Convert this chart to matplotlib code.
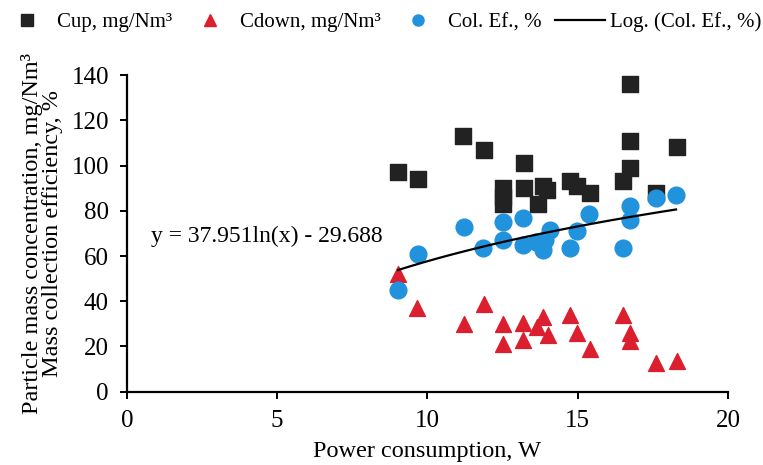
import numpy as np
import matplotlib
matplotlib.use("Agg")
import matplotlib.pyplot as plt
from matplotlib.lines import Line2D

# ==== Data ====
cup_x = [9.02, 9.68, 11.18, 11.88, 12.5, 12.5, 12.5, 13.2, 13.2, 13.68, 13.85,
         13.98, 14.74, 14.98, 15.41, 16.5, 16.74, 16.74, 16.74, 17.6, 18.3]
cup_y = [97, 94, 113, 107, 90, 86, 83, 101, 90, 83, 91,
         89, 93, 91, 88, 93, 99, 111, 136, 88, 108]

cdown_x = [9.02, 9.65, 11.2, 11.88, 12.5, 12.5, 13.18, 13.18, 13.64, 13.84,
           14.0, 14.74, 14.98, 15.41, 16.5, 16.74, 16.74, 17.6, 18.3]
cdown_y = [52, 37, 30, 39, 30, 21, 30.5, 23, 28.5, 33,
           25, 34, 26, 19, 34, 26, 22.5, 12.6, 13.6]

colef_x = [9.02, 9.68, 11.2, 11.85, 12.5, 12.5, 13.18, 13.18, 13.6, 13.85,
           13.9, 14.07, 14.74, 14.98, 15.38, 16.5, 16.74, 16.74, 17.6, 18.27]
colef_y = [45, 61, 73, 63.5, 75, 67, 77, 65, 66, 62.5,
           67, 71.5, 63.5, 71, 78.5, 63.5, 82, 76, 85.5, 87]

# logarithmic trend line coefficients (from the chart's equation)
log_a = 37.951
log_b = -29.688

# ==== Plot ====
plt.rcParams['font.family'] = ['Liberation Serif', 'DejaVu Serif']

fig = plt.figure(figsize=(7.63, 4.65), dpi=100)
ax = fig.add_axes([0.1664, 0.1576, 0.7877, 0.681])

black = '#222222'
red = '#dc1f2e'
blue = '#2192dc'

ax.scatter(cup_x, cup_y, marker='s', s=120, color=black, zorder=3)
ax.scatter(cdown_x, cdown_y, marker='^', s=130, color=red, zorder=3)
ax.scatter(colef_x, colef_y, marker='o', s=145, color=blue, zorder=3)

xs = np.linspace(min(colef_x), max(colef_x), 100)
ax.plot(xs, log_a * np.log(xs) + log_b, color='black', lw=1.6, zorder=4)

ax.text(0.8, 68.5, "y = 37.951ln(x) - 29.688", fontsize=17, va='center')

ax.set_xlim(0, 20)
ax.set_ylim(0, 140)
ax.set_xticks([0, 5, 10, 15, 20])
ax.set_yticks(range(0, 141, 20))
for s in ['top', 'right']:
    ax.spines[s].set_visible(False)
for s in ['left', 'bottom']:
    ax.spines[s].set_linewidth(1.6)
ax.tick_params(axis='both', labelsize=18, width=1.4, length=5, direction='out')
ax.tick_params(axis='x', pad=8)
ax.tick_params(axis='y', pad=8)

ax.set_xlabel("Power consumption, W", fontsize=17.5, labelpad=7)
ax.set_ylabel("Particle mass concentration, mg/Nm³\nMass collection efficiency, %",
              fontsize=17.5, labelpad=6, linespacing=0.95)

handles = [
    Line2D([], [], marker='s', color=black, ls='none', markersize=8),
    Line2D([], [], marker='^', color=red, ls='none', markersize=8),
    Line2D([], [], marker='o', color=blue, ls='none', markersize=8),
    Line2D([], [], color='black', lw=1.6),
]
labels = ["Cup, mg/Nm³", "Cdown, mg/Nm³", "Col. Ef., %", "Log. (Col. Ef., %)"]
fig.legend(handles, labels, loc='center', bbox_to_anchor=(0.5, 0.952), ncol=4,
           frameon=False, fontsize=15, handlelength=2.4, handletextpad=0.25,
           columnspacing=0.6, borderpad=0, borderaxespad=0)

fig.savefig("out.png", dpi=100)
